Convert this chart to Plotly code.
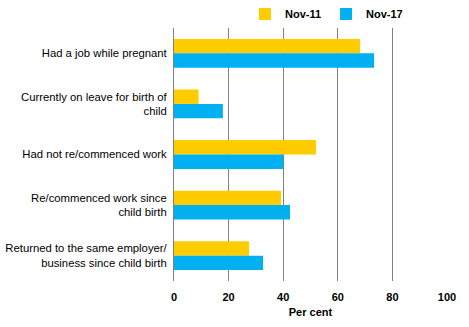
import plotly.graph_objects as go

categories = [
    "Had a job while pregnant",
    "Currently on leave for birth of<br>child",
    "Had not re/commenced work",
    "Re/commenced work since<br>child birth",
    "Returned to the same employer/<br>business since child birth",
]
nov11 = [68.2, 9.0, 52.0, 39.2, 27.5]
nov17 = [73.3, 17.9, 40.1, 42.5, 32.6]
tick_vals = [0, 20, 40, 60, 80, 100]

fig = go.Figure()
fig.add_trace(go.Bar(y=categories, x=nov11, orientation="h", name="Nov-11",
                     marker=dict(color="#FFCC00", line=dict(width=0))))
fig.add_trace(go.Bar(y=categories, x=nov17, orientation="h", name="Nov-17",
                     marker=dict(color="#00B0F0", line=dict(width=0))))

fig.update_layout(
    width=469, height=327,
    margin=dict(l=174, r=22, t=28, b=46, autoexpand=False),
    paper_bgcolor="white", plot_bgcolor="white",
    barmode="group", bargap=0.43, bargroupgap=0,
    font=dict(family="Liberation Sans, Arial, sans-serif", size=11, color="black"),
    legend=dict(orientation="h", x=0.26, y=1.055, xanchor="left", yanchor="middle",
                font=dict(size=11, color="black", family="Liberation Sans, Arial, sans-serif", weight="bold"),
                itemwidth=30, tracegroupgap=0, bgcolor="rgba(0,0,0,0)"),
    showlegend=True,
)
fig.update_xaxes(range=[0, 100], tickvals=tick_vals, showgrid=True, gridcolor="#808080", gridwidth=1,
                 zeroline=False, showline=False, ticklabelstandoff=8,
                 tickfont=dict(size=11, weight="bold"),
                 title=dict(text="Per cent", font=dict(size=11, weight="bold"), standoff=6))
fig.update_yaxes(autorange="reversed", showline=True, linecolor="#808080", linewidth=1,
                 ticks="", ticklabelstandoff=4, tickfont=dict(size=11.3))

fig.write_html("out.html")
